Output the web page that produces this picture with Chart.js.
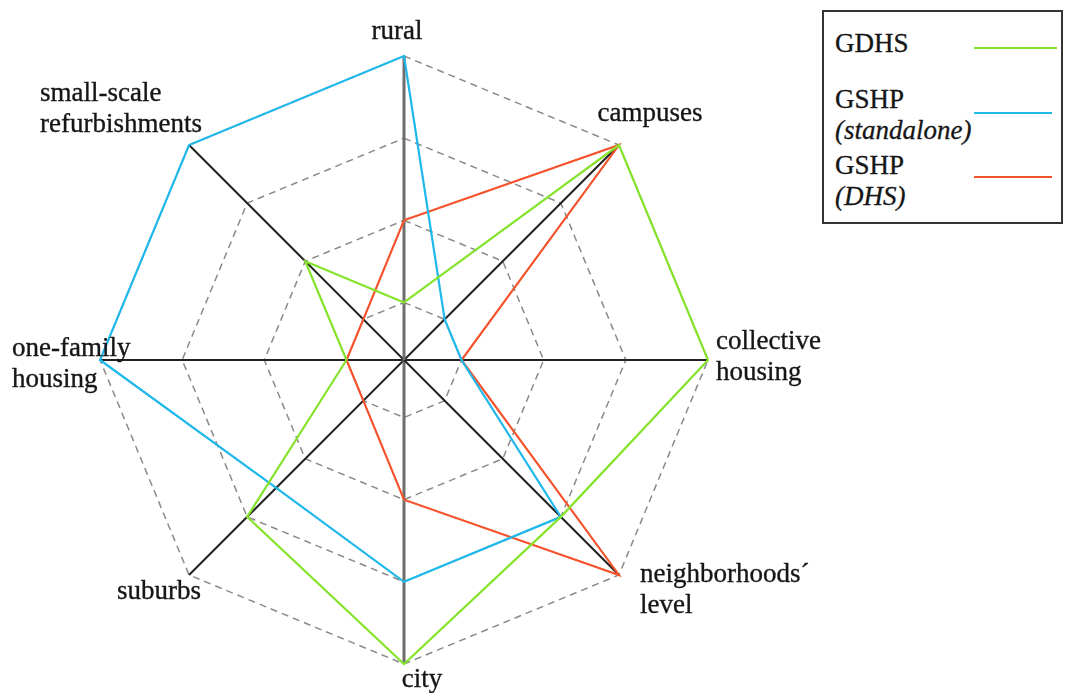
<!DOCTYPE html>
<html>
<head>
<meta charset="utf-8">
<script src="https://cdn.jsdelivr.net/npm/chart.js@4.4.0/dist/chart.umd.min.js"></script>
<style>
    html, body { margin: 0; padding: 0; background: #fff; }
    #wrap { position: relative; width: 1065px; height: 693px; overflow: hidden; }
    #radar { position: absolute; left: 0; top: 0; }
    #legend {
        position: absolute; left: 822px; top: 10px; width: 241px; height: 214px;
        box-sizing: border-box; border: 2px solid #333; background: #fff;
        font-family: "Liberation Serif", "DejaVu Serif", serif; font-size: 27px; color: #161616;
        -webkit-text-stroke: 0.3px #161616;
    }
    .entry { position: absolute; left: 11px; line-height: 31px; }
    .entry i { display: block; }
    .swatch { position: absolute; left: 150px; height: 2px; }
</style>
</head>
<body>
<div id="wrap">
    <canvas id="radar" width="1065" height="693"></canvas>
    <div id="legend"></div>
</div>
<script>
// Axis categories (clockwise from top)
const axisLabels = [
    'rural',
    'campuses',
    ['collective', 'housing'],
    ['neighborhoods´', 'level'],
    'city',
    'suburbs',
    ['one-family', 'housing'],
    ['small-scale', 'refurbishments']
];

// Series values (rings at 1..4)
const gdhsValues = [1, 4, 4, 3, 4, 3, 1, 2];
const gshpStandaloneValues = [4, 1, 1, 3, 3, 2.5, 4, 4];
const gshpDhsValues = [2, 4, 1, 4, 2, 1, 1, 1];

// Scale: centre sits a little below ring 1
const scaleMin = 0.3;
const ringLevels = [1, 2, 3, 4];

// Legend text
const seriesNames = [['GDHS'], ['GSHP', '(standalone)'], ['GSHP', '(DHS)']];

// Styles / placement
const seriesColors = ['#86e32c', '#1fb8ea', '#f4532b'];
const legendEntryTops = [16, 72, 138];
const legendSwatchTops = [19, 28, 26];
const legendSwatchWidths = [83, 78, 78];

// per axis label: dx, dy (first line centre from the axis end), alignment
const labelOffsets = [
    [-7, -24, 'center'],
    [31, -31, 'center'],
    [8, -18, 'left'],
    [21, 0, 'left'],
    [18, 16, 'center'],
    [-30, 17, 'center'],
    [-88, -11, 'left'],
    [-149, -51, 'left']
];
const labelLineHeight = 31;

/**
 * Draw the axis captions at the ends of the spokes
 */
const axisCaptions = {
    id: 'axisCaptions',
    afterDraw(chart) {
        const scale = chart.scales.r;
        const ctx = chart.ctx;
        ctx.save();
        ctx.font = '27px "Liberation Serif", "DejaVu Serif", serif';
        ctx.fillStyle = '#161616';
        ctx.strokeStyle = '#161616';
        ctx.lineWidth = 0.35;
        ctx.textBaseline = 'middle';
        axisLabels.forEach((label, i) => {
            const p = scale.getPointPosition(i, scale.drawingArea);
            const [dx, dy, align] = labelOffsets[i];
            ctx.textAlign = align;
            [].concat(label).forEach((line, k) => {
                const x = p.x + dx, y = p.y + dy + k * labelLineHeight;
                ctx.fillText(line, x, y);
                ctx.strokeText(line, x, y);
            });
        });
        ctx.restore();
    }
};

const seriesData = [gdhsValues, gshpStandaloneValues, gshpDhsValues];

const datasets = seriesData.map((values, i) => ({
    label: seriesNames[i].join(' '),
    data: values,
    borderColor: seriesColors[i],
    borderWidth: 2.2,
    pointRadius: 0,
    fill: false,
    tension: 0
}));

new Chart(document.getElementById('radar').getContext('2d'), {
    type: 'radar',
    data: { labels: axisLabels, datasets },
    options: {
        responsive: false,
        animation: false,
        layout: { padding: { left: 100, right: 357, top: 56, bottom: 29 } },
        plugins: {
            legend: { display: false },
            tooltip: { enabled: false }
        },
        scales: {
            r: {
                min: scaleMin,
                max: ringLevels[ringLevels.length - 1],
                afterBuildTicks: (s) => {
                    s.ticks = [scaleMin, ...ringLevels].map(v => ({ value: v }));
                },
                ticks: { display: false },
                pointLabels: { display: false },
                grid: { color: '#8a8a8a', lineWidth: 1.5 },
                border: { dash: [7, 5] },
                angleLines: {
                    // the vertical spoke is lighter and thicker
                    color: (c) => (c.index % 4 === 0 ? '#6e6e6e' : '#222'),
                    lineWidth: (c) => (c.index % 4 === 0 ? 3 : 2)
                }
            }
        }
    },
    plugins: [axisCaptions]
});

// HTML legend: caption on the left, line sample on the right
const legend = document.getElementById('legend');
seriesNames.forEach((lines, i) => {
    const entry = document.createElement('div');
    entry.className = 'entry';
    entry.style.top = legendEntryTops[i] + 'px';
    entry.innerHTML = lines[0] + (lines[1] ? '<i>' + lines[1] + '</i>' : '');
    legend.appendChild(entry);

    const swatch = document.createElement('div');
    swatch.className = 'swatch';
    swatch.style.top = (legendEntryTops[i] + legendSwatchTops[i]) + 'px';
    swatch.style.width = legendSwatchWidths[i] + 'px';
    swatch.style.background = seriesColors[i];
    legend.appendChild(swatch);
});
</script>
</body>
</html>
